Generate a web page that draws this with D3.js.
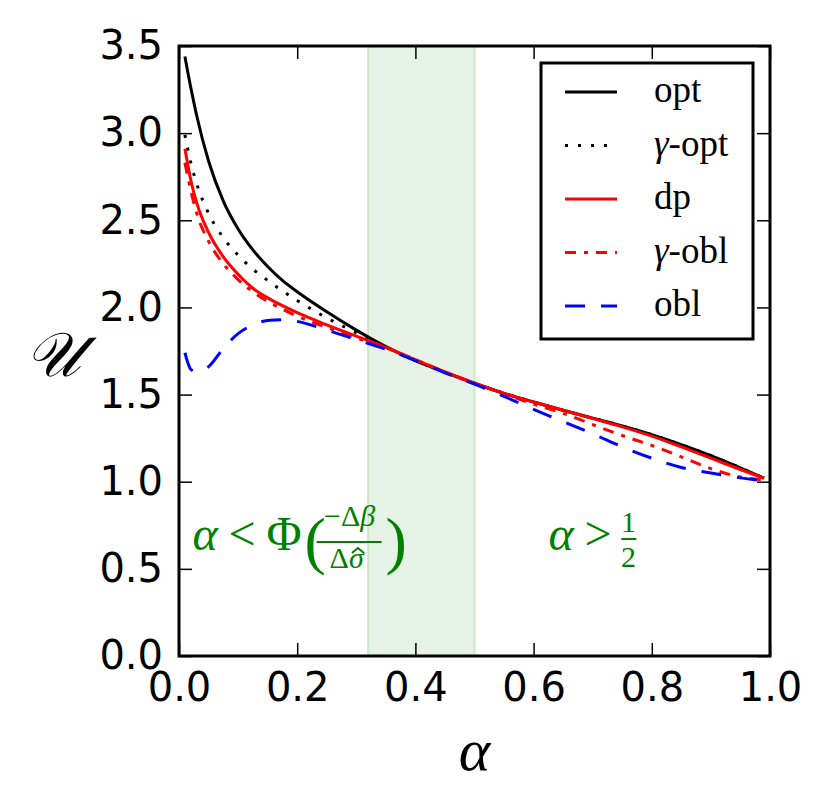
<!DOCTYPE html>
<html lang="en">
<head>
    <meta charset="UTF-8">
    <title>U vs alpha</title>
    <script src="https://d3js.org/d3.v7.min.js"></script>
    <style>
        body { margin: 0; background: #fff; }
    </style>
</head>
<body>
<script>
    // values
    const alpha = [0.01, 0.02, 0.03, 0.05, 0.075, 0.1, 0.125, 0.15, 0.175, 0.2, 0.25, 0.3, 0.35,
                   0.4, 0.45, 0.5, 0.55, 0.6, 0.65, 0.7, 0.75, 0.8, 0.85, 0.9, 0.95, 0.99];
    const opt  = [3.44, 3.26, 3.10, 2.84, 2.61, 2.45, 2.33, 2.235, 2.155, 2.09, 1.975, 1.87, 1.775,
                  1.695, 1.628, 1.565, 1.507, 1.457, 1.41, 1.365, 1.32, 1.27, 1.213, 1.15, 1.08, 1.02];
    const gOpt = [2.99, 2.83, 2.71, 2.54, 2.40, 2.30, 2.22, 2.155, 2.095, 2.04, 1.94, 1.855, 1.775,
                  1.695, 1.628, 1.565, 1.507, 1.457, 1.41, 1.365, 1.32, 1.27, 1.213, 1.15, 1.08, 1.02];
    const dp   = [2.91, 2.73, 2.60, 2.43, 2.29, 2.19, 2.11, 2.055, 2.01, 1.97, 1.90, 1.835, 1.77,
                  1.70, 1.63, 1.565, 1.507, 1.457, 1.41, 1.363, 1.315, 1.262, 1.2, 1.135, 1.07, 1.02];
    const gObl = [2.83, 2.67, 2.54, 2.38, 2.25, 2.16, 2.09, 2.035, 1.99, 1.95, 1.885, 1.825, 1.77,
                  1.70, 1.63, 1.565, 1.505, 1.445, 1.392, 1.328, 1.265, 1.208, 1.143, 1.075, 1.027, 1.01];
    const obl  = [1.74, 1.645, 1.63, 1.66, 1.765, 1.85, 1.90, 1.925, 1.93, 1.92, 1.87, 1.815, 1.76,
                  1.695, 1.625, 1.56, 1.49, 1.415, 1.345, 1.275, 1.20, 1.135, 1.082, 1.05, 1.022, 1.005];

    const seriesNames = ["opt", "\u03b3-opt", "dp", "\u03b3-obl", "obl"];
    const xTicks = [0.0, 0.2, 0.4, 0.6, 0.8, 1.0];
    const yTicks = [0.0, 0.5, 1.0, 1.5, 2.0, 2.5, 3.0, 3.5];
    const region = [0.32, 0.5];

    const styles = [
        {color: "#000000", dash: null},
        {color: "#000000", dash: "3,10"},
        {color: "#ff0000", dash: null},
        {color: "#ff0000", dash: "11,8,4,8"},
        {color: "#0000ff", dash: "20,16"}
    ];
    const series = [opt, gOpt, dp, gObl, obl];

    const width = 830, height = 810;
    const x = d3.scaleLinear().domain([0, 1]).range([179, 770]);
    const y = d3.scaleLinear().domain([0, 3.5]).range([656, 46]);

    const svg = d3.select("body").append("svg")
        .attr("width", width)
        .attr("height", height);

    // shaded band
    svg.append("rect")
        .attr("x", x(region[0]))
        .attr("y", y(3.5))
        .attr("width", x(region[1]) - x(region[0]))
        .attr("height", y(0) - y(3.5))
        .attr("fill", "#e5f2e5")
        .attr("stroke", "#cfe6cf")
        .attr("stroke-width", 2);

    const line = d3.line()
        .x((d, i) => x(alpha[i]))
        .y(d => y(d))
        .curve(d3.curveMonotoneX);

    series.forEach((s, k) => {
        svg.append("path")
            .datum(s)
            .attr("d", line)
            .attr("fill", "none")
            .attr("stroke", styles[k].color)
            .attr("stroke-width", 3)
            .attr("stroke-dasharray", styles[k].dash);
    });

    // axes, ticks pointing in
    const tickFont = "'DejaVu Sans', sans-serif";
    function styleAxis(g) {
        g.select(".domain").remove();
        g.selectAll(".tick line").attr("stroke", "#000").attr("stroke-width", 1.5);
        g.selectAll(".tick text").attr("font-family", tickFont).attr("font-size", 40).attr("fill", "#000");
    }
    svg.append("g").attr("transform", `translate(0,${y(0)})`)
        .call(d3.axisBottom(x).tickValues(xTicks).tickSize(-13).tickPadding(17).tickFormat(d3.format(".1f")))
        .call(styleAxis);
    svg.append("g").attr("transform", `translate(0,${y(3.5)})`)
        .call(d3.axisTop(x).tickValues(xTicks).tickSize(-13).tickFormat(""))
        .call(styleAxis);
    svg.append("g").attr("transform", `translate(${x(0)},0)`)
        .call(d3.axisLeft(y).tickValues(yTicks).tickSize(-13).tickPadding(16).tickFormat(d3.format(".1f")))
        .call(styleAxis);
    svg.append("g").attr("transform", `translate(${x(1)},0)`)
        .call(d3.axisRight(y).tickValues(yTicks).tickSize(-13).tickFormat(""))
        .call(styleAxis);

    svg.append("rect")
        .attr("x", x(0)).attr("y", y(3.5))
        .attr("width", x(1) - x(0)).attr("height", y(0) - y(3.5))
        .attr("fill", "none").attr("stroke", "#000").attr("stroke-width", 3);

    // axis labels
    const mathFont = "'Liberation Serif', 'Times New Roman', serif";
    svg.append("text")
        .attr("x", (x(0) + x(1)) / 2).attr("y", 770)
        .attr("text-anchor", "middle")
        .attr("font-family", mathFont).attr("font-style", "italic").attr("font-size", 60)
        .text("\u03b1");
    svg.append("text")
        .attr("x", 53).attr("y", 376)
        .attr("text-anchor", "middle")
        .attr("font-family", mathFont).attr("font-style", "italic").attr("font-size", 62)
        .text("\ud835\udcb0");

    // legend
    const lg = svg.append("g");
    lg.append("rect")
        .attr("x", 541).attr("y", 63).attr("width", 212).attr("height", 276)
        .attr("fill", "#fff").attr("stroke", "#000").attr("stroke-width", 3);
    seriesNames.forEach((name, k) => {
        const ly = 92 + k * 53.5;
        lg.append("line")
            .attr("x1", 565).attr("x2", 617).attr("y1", ly).attr("y2", ly)
            .attr("stroke", styles[k].color).attr("stroke-width", 3)
            .attr("stroke-dasharray", styles[k].dash);
        const t = lg.append("text")
            .attr("x", 654).attr("y", ly + 10)
            .attr("font-family", mathFont).attr("font-size", 37);
        if (name.startsWith("\u03b3")) {
            t.append("tspan").attr("font-style", "italic").text("\u03b3");
            t.append("tspan").text(name.slice(1));
        } else {
            t.text(name);
        }
    });

    // annotations
    const green = "#008000";
    const ann = svg.append("g").attr("fill", green).attr("font-family", mathFont);
    const ax = x(0.023), ay = 550;
    ann.append("text").attr("x", ax).attr("y", ay).attr("font-size", 48).attr("font-style", "italic").text("\u03b1");
    ann.append("text").attr("x", ax + 36).attr("y", ay).attr("font-size", 48).text("<");
    ann.append("text").attr("x", ax + 74).attr("y", ay).attr("font-size", 48).text("\u03a6");
    ann.append("text").attr("x", ax + 112).attr("y", ay + 12).attr("font-size", 64).text("(");
    ann.append("text").attr("x", ax + 157).attr("y", ay - 24).attr("font-size", 30).attr("text-anchor", "middle")
        .call(t => {
            t.append("tspan").text("\u2212\u0394");
            t.append("tspan").attr("font-style", "italic").text("\u03b2");
        });
    ann.append("line").attr("x1", ax + 124).attr("x2", ax + 189).attr("y1", ay - 8).attr("y2", ay - 8)
        .attr("stroke", green).attr("stroke-width", 2);
    const den = ann.append("text").attr("x", ax + 137).attr("y", ay + 18).attr("font-size", 30);
    den.append("tspan").text("\u0394");
    den.append("tspan").attr("font-style", "italic").text("\u03c3");
    // hat over sigma drawn as a small stroke
    const db = den.node().getBBox();
    const hx = db.x + db.width - 7, hy = ay - 2;
    ann.append("path")
        .attr("d", `M${hx - 6},${hy + 5} L${hx},${hy} L${hx + 6},${hy + 5}`)
        .attr("fill", "none").attr("stroke", green).attr("stroke-width", 2);
    ann.append("text").attr("x", ax + 193).attr("y", ay + 12).attr("font-size", 64).text(")");

    const bx = x(0.625), by = 550;
    ann.append("text").attr("x", bx).attr("y", by).attr("font-size", 48).attr("font-style", "italic").text("\u03b1");
    ann.append("text").attr("x", bx + 36).attr("y", by).attr("font-size", 48).text(">");
    ann.append("text").attr("x", bx + 80).attr("y", by - 18).attr("font-size", 30).attr("text-anchor", "middle").text("1");
    ann.append("line").attr("x1", bx + 73).attr("x2", bx + 88).attr("y1", by - 11).attr("y2", by - 11)
        .attr("stroke", green).attr("stroke-width", 2);
    ann.append("text").attr("x", bx + 80).attr("y", by + 17).attr("font-size", 30).attr("text-anchor", "middle").text("2");
</script>
</body>
</html>
